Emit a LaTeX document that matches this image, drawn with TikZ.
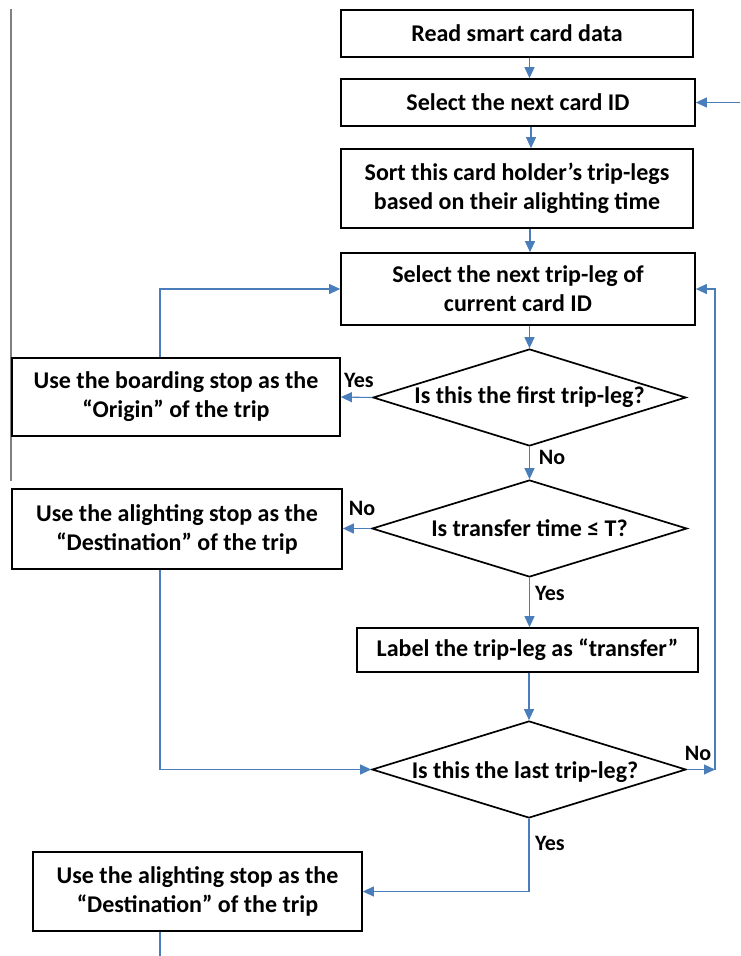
\documentclass[tikz,border=0pt]{standalone}
\usepackage{fontspec}
\setmainfont{Carlito}
\usetikzlibrary{shapes.geometric,arrows.meta,calc}
\definecolor{flowblue}{RGB}{74,126,187}
\definecolor{leftgray}{RGB}{128,128,128}
\tikzset{
  boxnode/.style={draw=black,line width=1.7pt,inner sep=0pt,align=center,
    font=\fontsize{24}{29}\selectfont\bfseries},
  dianode/.style={draw=black,line width=1.7pt,diamond,inner sep=0pt,aspect=3.2},
  diatext/.style={font=\fontsize{24}{29}\selectfont\bfseries,inner sep=0pt},
  arr/.style={draw=flowblue,line width=1.1pt,-{Triangle[length=11pt,width=10pt]}},
  plainline/.style={draw=flowblue,line width=1.1pt},
  lbl/.style={font=\fontsize{22}{24}\selectfont\bfseries,inner sep=0pt}
}
\begin{document}
\begin{tikzpicture}[x=1pt,y=-1pt]
\useasboundingbox (0,0) rectangle (740,956);
% left gray rule
\draw[leftgray,line width=1.3pt] (11,9) -- (11,481);
% boxes
\node[boxnode,minimum width=352pt,minimum height=47pt] (b1) at (517,33.5) {Read smart card data};
\node[boxnode,minimum width=354pt,minimum height=47pt] (b2) at (518,102.5) {Select the next card ID};
\node[boxnode,minimum width=352pt,minimum height=79pt] (b3) at (517,188.5) {Sort this card holder’s trip-legs\\based on their alighting time};
\node[boxnode,minimum width=354pt,minimum height=72pt] (b4) at (518,289) {Select the next trip-leg of\\current card ID};
\node[boxnode,minimum width=328pt,minimum height=78pt] (orig) at (176,397) {Use the boarding stop as the\\“Origin” of the trip};
\node[boxnode,minimum width=330pt,minimum height=80pt] (dest1) at (177,529) {Use the alighting stop as the\\“Destination” of the trip};
\node[boxnode,minimum width=341pt,minimum height=44pt] (lab) at (527.5,650) {Label the trip-leg as “transfer”};
\node[boxnode,minimum width=329pt,minimum height=79pt] (dest2) at (197.5,891.5) {Use the alighting stop as the\\“Destination” of the trip};
% diamonds
\node[dianode,minimum width=313pt,minimum height=97pt] (d1) at (529.5,397.5) {};
\node[diatext] (t1) at (d1.center) {Is this the first trip-leg?};
\node[dianode,minimum width=315pt,minimum height=97pt] (d2) at (529.5,528.5) {};
\node[diatext] (t2) at (d2.center) {Is transfer time ≤ T?};
\node[dianode,minimum width=314pt,minimum height=97pt] (d3) at (529,769.5) {};
\node[diatext] (t3) at ($(d3.center)+(-4,3)$) {Is this the last trip-leg?};
% helper coordinates
\coordinate (lx) at (160,0);
\coordinate (rx) at (715,769.5);
\coordinate (ein) at (740,102.5);
\coordinate (bot) at (160,956);
% connectors
\draw[arr] (b1.south -| d1.north) -- (b2.north -| d1.north);
\draw[arr] (b2.south -| 531,0) -- (b3.north -| 531,0);
\draw[arr] (b3.south -| 530,0) -- (b4.north -| 530,0);
\draw[arr] (b4.south -| d1.north) -- (d1.north);
\draw[arr] (ein) -- (b2.east);
\draw[arr] (d1.west) -- (orig.east);
\draw[arr] (orig.north -| lx) |- (b4.west);
\draw[arr] (d1.south) -- (d2.north);
\draw[arr] (d2.west) -- (dest1.east |- d2.west);
\draw[arr] (d2.south) -- (lab.north -| d2.south);
\draw[arr] (lab.south -| d3.north) -- (d3.north);
\draw[arr] (dest1.south -| lx) |- (d3.west);
\draw[arr] (d3.east) -- (rx);
\draw[arr] (rx) |- (b4.east);
\draw[arr] (d3.south) |- (dest2.east);
\draw[plainline] (dest2.south -| bot) -- (bot);
% labels
\node[lbl] (yes1) at (359,380) {Yes};
\node[lbl] (no1) at (552,457) {No};
\node[lbl] (no2) at (362,508) {No};
\node[lbl] (yes2) at (550,593) {Yes};
\node[lbl] (no3) at (698,753) {No};
\node[lbl] (yes3) at (550,843) {Yes};
\end{tikzpicture}
\end{document}
